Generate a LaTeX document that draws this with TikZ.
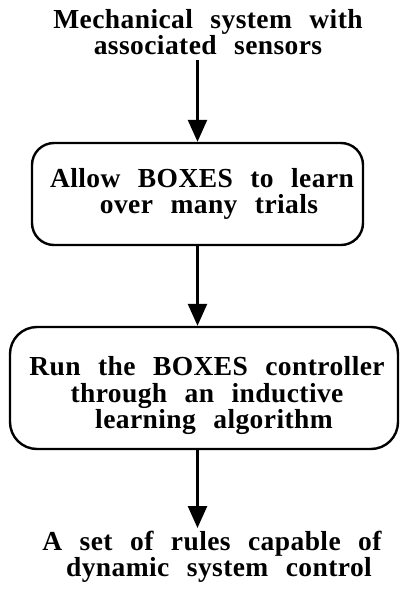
\documentclass[tikz,border=0pt]{standalone}
\usepackage{fontspec}
\setmainfont{Liberation Serif}[LetterSpace=1.5,WordSpace=2.4]
\usetikzlibrary{arrows.meta}
% shift a centred line to the right by half of the given amount
\newcommand{\nudge}[1]{\hspace*{#1}}
\begin{document}
\begin{tikzpicture}[x=1pt,y=-1pt,
  every node/.style={font=\bfseries\fontsize{27.5}{26.5}\selectfont, align=center, inner sep=0pt},
  stage/.style={draw, line width=2.4pt, minimum width=#1},
  flow/.style={line width=2.6pt, -{Triangle[width=19pt,length=22pt]}}]
  \useasboundingbox (0,0) rectangle (400,591);

  % input and output labels
  \node (src) at (208,32) {Mechanical system with\\associated sensors};
  \node (out) at (212,557) {A set of rules capable of\\\nudge{14pt}dynamic system control};

  % processing stages
  \node[stage=331pt, minimum height=102pt, rounded corners=22pt] (learn) at (197.5,194)
    {\nudge{9pt}Allow BOXES to learn\\\nudge{23pt}over many trials};
  \node[stage=388pt, minimum height=122pt, rounded corners=27pt] (induce) at (204,388)
    {\rule{0pt}{35pt}\nudge{6pt}Run the BOXES controller\\\nudge{6pt}through an inductive\\\nudge{20pt}learning algorithm};

  % connectors
  \coordinate (a0) at (learn.north |- 0,60);
  \draw[flow] (a0) -- (learn.north);
  \draw[flow] (learn.south) -- (learn.south |- induce.north);
  \coordinate (a3) at (learn.south |- 0,528);
  \draw[flow] (learn.south |- induce.south) -- (a3);
\end{tikzpicture}
\end{document}
